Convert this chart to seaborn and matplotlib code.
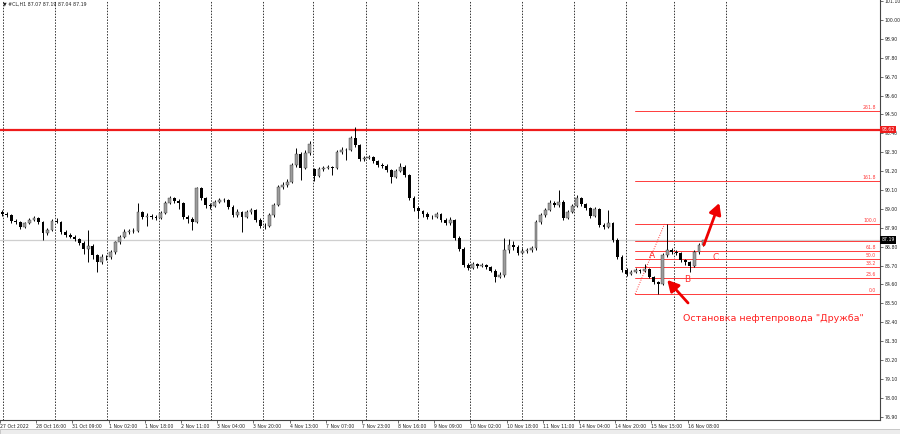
import numpy as np
import pandas as pd
import matplotlib
matplotlib.use("Agg")
import matplotlib.pyplot as plt
import seaborn as sns
from matplotlib.patches import Rectangle

# ---------------- data ----------------
closes = [
    88.70, 88.64, 88.29, 88.21, 87.94, 88.18, 88.35, 88.44, 88.24, 87.60,
    87.77, 88.29, 88.26, 87.65, 87.48, 87.38, 87.25, 87.01, 86.66, 86.84,
    86.31, 85.91, 86.21, 86.17, 86.49, 87.07, 87.36, 87.68, 87.71, 87.71,
    88.82, 88.53, 88.61, 88.53, 88.47, 88.76, 89.34, 89.63, 89.48, 89.34,
    88.53, 88.41, 88.24, 90.22, 89.63, 89.22, 89.17, 89.40, 89.52, 89.52,
    89.11, 88.64, 88.79, 88.55, 88.82, 88.93, 88.35, 88.00, 88.00, 88.64,
    89.22, 90.27, 90.39, 90.57, 91.56, 92.20, 91.38, 92.25, 92.78, 90.91,
    91.32, 91.38, 91.44, 91.38, 92.31, 92.43, 92.43, 93.13, 92.72, 91.90,
    91.96, 92.04, 91.79, 91.55, 91.50, 91.29, 90.86, 91.21, 91.46, 90.97,
    89.63, 89.03, 88.88, 88.70, 88.54, 88.50, 88.70, 88.35, 88.15, 88.35,
    87.30, 86.69, 85.73, 85.56, 85.79, 85.67, 85.73, 85.61, 85.41, 85.05,
    85.15, 86.60, 86.90, 86.79, 86.41, 86.55, 86.60, 86.70, 88.24, 88.64,
    88.93, 89.34, 89.22, 89.40, 88.47, 88.84, 89.17, 89.63, 89.28, 89.05,
    88.58, 88.99, 88.06, 87.96, 88.18, 87.19, 86.21, 85.44, 85.21, 85.32,
    85.44, 85.38, 85.50, 85.03, 84.74, 84.63, 86.31, 86.60, 86.49, 86.43,
    86.02, 85.88, 85.67, 86.49, 86.90, 87.19,
]
highs = [
    88.92, 88.82, 88.70, 88.40, 88.30, 88.25, 88.48, 88.60, 88.52, 88.30,
    87.90, 88.40, 88.45, 88.32, 87.75, 87.58, 87.50, 87.32, 87.10, 87.77,
    86.95, 86.40, 86.35, 86.30, 86.60, 87.15, 87.45, 87.80, 87.85, 87.90,
    89.34, 88.90, 88.75, 88.72, 88.65, 88.85, 89.45, 89.75, 89.70, 89.55,
    89.40, 88.65, 88.55, 90.29, 90.28, 89.70, 89.35, 89.50, 89.62, 89.65,
    89.60, 89.20, 89.00, 88.90, 88.95, 89.05, 89.00, 88.45, 88.15, 88.75,
    89.35, 90.40, 90.55, 90.75, 91.70, 92.55, 92.30, 92.40, 92.95, 91.40,
    91.45, 91.50, 91.55, 91.50, 92.45, 92.60, 92.55, 93.25, 93.79, 92.80,
    92.10, 92.15, 92.10, 91.85, 91.65, 91.60, 91.35, 91.35, 91.67, 91.55,
    91.05, 89.75, 89.15, 88.95, 88.80, 88.65, 88.80, 88.75, 88.45, 88.50,
    88.40, 87.40, 86.80, 85.85, 85.90, 85.85, 85.85, 85.80, 85.70, 85.50,
    85.30, 87.29, 87.25, 87.10, 86.90, 86.70, 86.72, 86.82, 88.35, 88.75,
    89.05, 89.50, 89.45, 90.10, 89.50, 88.95, 89.30, 89.81, 89.70, 89.35,
    89.10, 89.10, 89.05, 88.20, 88.93, 88.25, 87.30, 86.30, 85.55, 85.45,
    85.55, 85.50, 85.80, 85.55, 85.10, 84.80, 86.45, 88.12, 86.75, 86.60,
    86.50, 86.10, 85.95, 86.60, 87.00, 87.19,
]
lows = [
    88.58, 88.55, 88.20, 88.12, 87.85, 87.88, 88.10, 88.28, 88.10, 87.19,
    87.45, 87.70, 88.15, 87.55, 87.38, 87.28, 87.10, 86.90, 86.40, 85.92,
    86.10, 85.34, 85.80, 86.05, 86.10, 86.40, 86.98, 87.28, 87.55, 87.58,
    87.65, 88.40, 88.00, 88.40, 88.35, 88.40, 88.70, 89.28, 89.35, 89.00,
    88.40, 88.20, 87.77, 88.15, 89.50, 89.05, 89.00, 89.10, 89.35, 89.40,
    89.00, 88.50, 88.55, 87.67, 88.45, 88.70, 88.25, 87.90, 87.85, 87.95,
    88.55, 89.15, 90.15, 90.25, 90.50, 91.45, 90.68, 91.30, 92.15, 90.60,
    90.85, 91.20, 91.30, 90.97, 91.30, 92.20, 91.85, 92.35, 92.60, 91.80,
    91.80, 91.90, 91.70, 91.45, 91.40, 91.15, 90.51, 90.80, 91.15, 90.85,
    89.50, 88.90, 88.47, 88.55, 88.40, 88.40, 88.45, 88.25, 88.05, 88.05,
    87.19, 86.55, 85.60, 85.45, 85.50, 85.55, 85.60, 85.50, 85.30, 84.76,
    84.95, 85.05, 86.45, 86.60, 86.30, 86.35, 86.45, 86.50, 86.60, 88.10,
    88.55, 88.85, 89.10, 89.10, 88.35, 88.40, 88.75, 89.10, 89.15, 88.95,
    88.45, 88.50, 87.95, 87.85, 87.90, 87.05, 86.10, 85.30, 85.10, 85.15,
    85.25, 85.28, 85.30, 84.95, 84.60, 84.04, 84.55, 86.20, 86.35, 86.30,
    85.90, 85.75, 85.34, 85.60, 86.40, 86.85,
]
first_open = 88.80
gap_opens = {69: 91.35}          # Monday gap open (7 Nov)

day_breaks = [0.2, 11.6, 23.1, 34.7, 46.2, 57.7, 68.8, 80.4, 91.9,
              103.4, 114.8, 126.3, 137.8, 148.4, 159.9]

x_tick_labels = ["27 Oct 2022", "28 Oct 16:00", "31 Oct 09:00", "1 Nov 02:00",
                 "1 Nov 18:00", "2 Nov 11:00", "3 Nov 04:00", "3 Nov 20:00",
                 "4 Nov 13:00", "7 Nov 07:00", "7 Nov 23:00", "8 Nov 16:00",
                 "9 Nov 09:00", "10 Nov 02:00", "10 Nov 18:00", "11 Nov 11:00",
                 "14 Nov 04:00", "14 Nov 20:00", "15 Nov 15:00", "16 Nov 08:00"]
y_ticks = [101.10, 100.00, 98.90, 97.80, 96.70, 95.60, 94.50, 93.40, 92.30,
           91.20, 90.10, 89.00, 87.90, 86.80, 85.70, 84.60, 83.50, 82.40,
           81.30, 80.20, 79.10, 78.00, 76.90]

resistance = 93.62
last_price = 87.19
title_text = "▼ #CL,H1 87.07 87.19 87.04 87.19"

fib_low, fib_high = 84.04, 88.12
fib_start_bar, fib_high_bar = 139.9, 146.4
fib_levels = [0.0, 23.6, 38.2, 50.0, 61.8, 76.4, 100.0, 161.8, 261.8]
fib_labels = ["0.0", "23.6", "38.2", "50.0", "61.8", "", "100.0", "161.8", "261.8"]

wave_letters = ["A", "B", "C"]
wave_pos = [(143.7, 86.31), (151.4, 84.86), (157.8, 86.16)]
note_text = 'Остановка нефтепровода "Дружба"'
note_pos = (150.5, 82.64)
arrow_up = ((155.1, 86.90), (158.5, 89.34))
arrow_news = ((151.6, 83.52), (147.0, 84.86))

# ---------------- figure ----------------
sns.set_theme(style="white")
plt.rcParams["font.family"] = ["DejaVu Sans"]

W, H = 900, 434
fig = plt.figure(figsize=(W / 100, H / 100), dpi=100)
fig.patch.set_facecolor("white")
ax = fig.add_axes([0, 1 - 420 / H, 880 / W, 420 / H])
ax.set_facecolor("white")

n = len(closes)
opens = [first_open] + closes[:-1]
for k, v in gap_opens.items():
    opens[k] = v
df = pd.DataFrame({"bar": np.arange(n), "open": opens, "high": highs,
                   "low": lows, "close": closes})
df["bull"] = df["close"] >= df["open"]
df["body_lo"] = df[["open", "close"]].min(axis=1)
df["body_h"] = (df["close"] - df["open"]).abs().clip(lower=0.025)

# day separators
for b in day_breaks:
    ax.axvline(b, color="#333333", lw=0.7, ls=(0, (1.5, 1.5)), zorder=1)

# last-price (bid) line
ax.axhline(last_price, color="#cfcfcf", lw=0.9, zorder=1)

# candles
ax.vlines(df["bar"], df["low"], df["high"], color="black", lw=0.7, zorder=3)
bull = df[df["bull"]]
bear = df[~df["bull"]]
ax.bar(bull["bar"], bull["body_h"], bottom=bull["body_lo"], width=0.62,
       color="#9c9c9c", edgecolor="#3a3a3a", linewidth=0.3, zorder=4)
ax.bar(bear["bar"], bear["body_h"], bottom=bear["body_lo"], width=0.62,
       color="black", linewidth=0, zorder=4)

# resistance line
ax.axhline(resistance, color="#ee1c1c", lw=1.6, zorder=2)

# fibonacci
x_right = 194.0
for lvl, lab in zip(fib_levels, fib_labels):
    p = fib_low + (fib_high - fib_low) * lvl / 100.0
    ax.plot([fib_start_bar, x_right], [p, p], color="#ff3b3b", lw=0.7, zorder=2.5)
    if lab:
        ax.text(193.2, p + 0.05, lab, ha="right", va="bottom", fontsize=3.3,
                color="#ff3b3b", zorder=5)
diag = pd.DataFrame({"bar": [fib_start_bar, fib_high_bar], "price": [fib_low, fib_high]})
sns.lineplot(data=diag, x="bar", y="price", ax=ax, color="#ff3b3b", lw=0.7,
             linestyle=(0, (1, 1.5)), zorder=2)

# wave letters and note
for lab, (bx, py) in zip(wave_letters, wave_pos):
    ax.text(bx, py, lab, ha="center", va="center", fontsize=6.5, color="#ff3030", zorder=6)
ax.text(note_pos[0], note_pos[1], note_text, ha="left", va="center", fontsize=6.8,
        color="#ff2020", zorder=6)

for tail, head in (arrow_up, arrow_news):
    ax.annotate("", xy=head, xytext=tail,
                arrowprops=dict(arrowstyle="-|>,head_length=0.55,head_width=0.3",
                                color="#ee0000", lw=2.0, shrinkA=0, shrinkB=0),
                zorder=7)

# axes & ticks
ax.set_xlim(-2 / 4.525, (880 - 2) / 4.525)
ax.set_ylim(100 - 400 / 17.17, 100 + 20 / 17.17)
ax.set_xlabel("")
ax.set_ylabel("")
ax.set_xticks(np.arange(0, n, 8)[:len(x_tick_labels)] - 0.5)
ax.set_xticklabels(x_tick_labels, fontsize=3.3, ha="left", color="#222222")
ax.yaxis.tick_right()
ax.set_yticks(y_ticks)
ax.set_yticklabels([f"{v:.2f}" for v in y_ticks], fontsize=3.3, color="#222222")
ax.tick_params(axis="both", direction="out", length=2.2, width=0.5, color="#333333", pad=1)
ax.tick_params(axis="x", bottom=True, pad=0.8)
ax.tick_params(axis="y", right=True, left=False, pad=1.2)
for s in ("top", "left"):
    ax.spines[s].set_visible(False)
for s in ("right", "bottom"):
    ax.spines[s].set_color("#444444")
    ax.spines[s].set_linewidth(0.8)
ax.grid(False)

# price boxes on the scale
ytr = ax.get_yaxis_transform()
ax.text(1.0015, resistance, f"{resistance:.2f}", transform=ytr, ha="left", va="center",
        fontsize=3.3, color="white", clip_on=False, zorder=8,
        bbox=dict(boxstyle="square,pad=0.3", fc="#ee1c1c", ec="none"))
ax.text(1.0015, last_price, f"{last_price:.2f}", transform=ytr, ha="left", va="center",
        fontsize=3.3, color="white", clip_on=False, zorder=8,
        bbox=dict(boxstyle="square,pad=0.3", fc="black", ec="none"))

# title
fig.text(3 / W, 1 - 4 / H, title_text, ha="left", va="center", fontsize=3.4, color="#222222")

# bottom tab strip
fig.add_artist(Rectangle((0, 0), 1, 5 / H, transform=fig.transFigure,
                         fc="#ececec", ec="#b5b5b5", lw=0.5))

fig.savefig("out.png", dpi=100, facecolor="white")
